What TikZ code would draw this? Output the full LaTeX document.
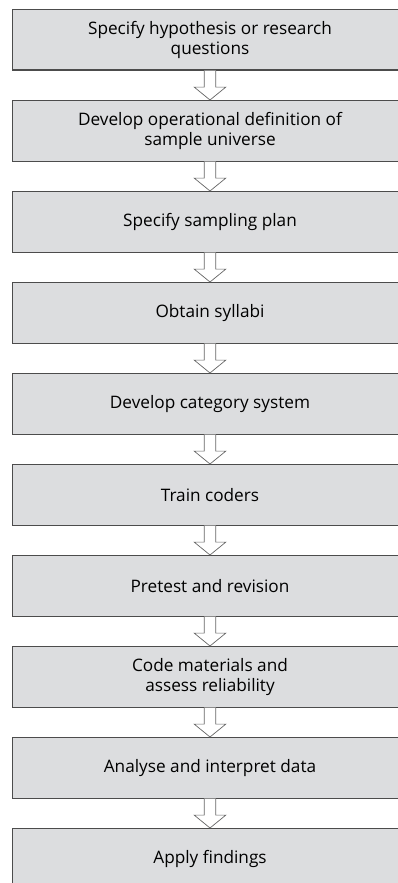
\documentclass[tikz,border=0pt]{standalone}
\usepackage{fontspec}
\setmainfont{Open Sans}
\usetikzlibrary{calc}
\begin{document}
\begin{tikzpicture}[x=1pt,y=-1pt,
  stage/.style={draw=black!70, line width=1.1pt, fill=boxgray,
    minimum width=395pt, minimum height=60.5pt, inner sep=0pt,
    align=center, font=\fontsize{17.2}{20.5}\selectfont, text=black, anchor=north},
  flowarrow/.style={draw=black!60, line width=0.7pt, fill=white}]
\definecolor{boxgray}{HTML}{DCDDDF}
\useasboundingbox (0,0) rectangle (398,883);
\clip (0,0) rectangle (398,883);
\fill[white] (0,0) rectangle (398,883);
% stages of the procedure, one every 91pt
\node[stage] (s1)  at (210,9)   {Specify hypothesis or research\\questions};
\node[stage] (s2)  at (210,100) {Develop operational definition of\\sample universe};
\node[stage] (s3)  at (210,191) {Specify sampling plan};
\node[stage] (s4)  at (210,282) {Obtain syllabi};
\node[stage] (s5)  at (210,373) {Develop category system};
\node[stage] (s6)  at (210,464) {Train coders};
\node[stage] (s7)  at (210,555) {Pretest and revision};
\node[stage] (s8)  at (210,646) {Code materials and\\assess reliability};
\node[stage] (s9)  at (210,737) {Analyse and interpret data};
\node[stage] (s10) at (210,828) {Apply findings};
% hollow block arrows between consecutive stages
\foreach \a/\b in {s1/s2,s2/s3,s3/s4,s4/s5,s5/s6,s6/s7,s7/s8,s8/s9,s9/s10}{
  \draw[flowarrow]
    ($(\a.south)+(-5.8,0)$) -- ($(\a.south)+(-5.8,16.5)$)
    -- ($(\a.south)+(-15.8,16.5)$) -- (\b.north)
    -- ($(\a.south)+(15.8,16.5)$) -- ($(\a.south)+(5.8,16.5)$)
    -- ($(\a.south)+(5.8,0)$);
}
\end{tikzpicture}
\end{document}
